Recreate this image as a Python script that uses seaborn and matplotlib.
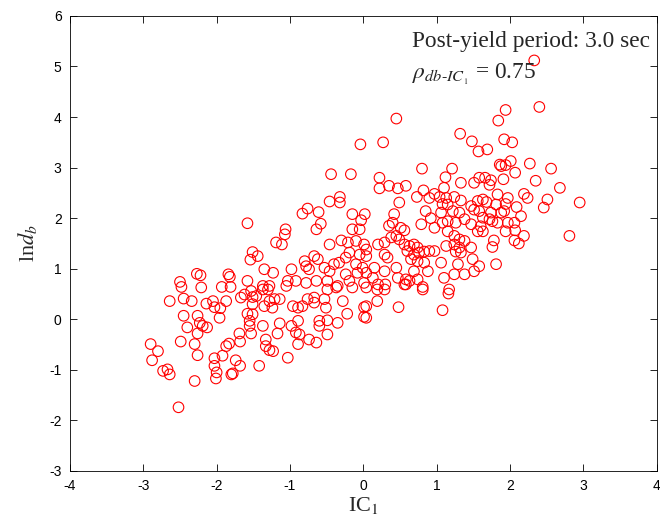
import matplotlib
matplotlib.use("Agg")
import matplotlib.pyplot as plt
import seaborn as sns
import numpy as np

pts = [
(0.45,3.97),(0.27,3.50),(1.32,3.67),(1.48,3.52),(1.57,3.32),(-0.04,3.46),(0.80,2.98),(1.21,2.98),
(2.33,5.12),(2.40,4.20),(1.94,4.14),(1.84,3.93),(1.92,3.56),(2.03,3.50),(1.69,3.36),(2.27,3.08),(1.86,3.06),(2.01,3.13),(1.94,3.05),(2.56,2.98),
(-0.44,2.87),(-0.17,2.87),(-0.46,2.33),(-0.32,2.42),(-0.32,2.31),(-0.76,2.19),(-0.83,2.09),(-0.61,2.12),(-0.58,1.89),(-0.64,1.78),(-1.06,1.78),(-1.07,1.68),(-1.19,1.52),(-1.11,1.48),(-1.58,1.90),
(-0.15,2.08),(0.02,2.08),(-0.03,1.96),(-0.15,1.78),(-0.05,1.78),(-0.46,1.48),(-0.30,1.56),(-0.21,1.52),(-0.10,1.55),(0.01,1.48),(-0.19,1.32),(-0.05,1.28),(-1.51,1.33),(-1.44,1.25),(-1.54,1.18),
(-0.67,1.25),(-0.62,1.19),(-0.80,1.15),(-0.78,1.05),(-0.74,0.99),(-0.53,1.02),(-0.46,0.95),(-0.40,1.09),(-0.33,1.12),(-0.24,1.22),(-0.10,1.09),(-0.01,1.02),(-0.08,0.92),(-0.24,0.89),(-1.35,0.99),(-1.23,0.92),(-0.98,0.99),(-1.03,0.76),(-0.92,0.76),(-0.78,0.72),(-0.64,0.76),(-0.49,0.76),(-0.35,0.66),(-0.19,0.76),(0.01,0.72),(-1.37,0.66),(-1.28,0.66),(-1.58,0.76),
(-2.27,0.90),(-2.22,0.87),(-1.84,0.89),(-1.82,0.84),(-2.50,0.74),(-2.48,0.64),(-2.21,0.63),(-1.93,0.64),(-1.81,0.64),
(-2.64,0.36),(-2.45,0.41),(-2.34,0.36),(-2.14,0.31),(-2.05,0.36),(-2.03,0.24),(-1.95,0.22),(-1.87,0.36),(-1.96,0.03),(-2.45,0.07),(-2.26,0.07),(-2.23,-0.07),(-2.19,-0.13),(-2.13,-0.16),(-2.40,-0.16),(-2.26,-0.28),(-2.49,-0.44),(-2.30,-0.49),(-2.26,-0.71),(-2.90,-0.49),(-2.80,-0.63),(-2.88,-0.81),(-2.73,-1.02),(-2.67,-0.99),(-2.64,-1.09),(-2.30,-1.22),(-2.52,-1.74),(-2.03,-0.77),(-2.03,-0.92),(-2.00,-1.05),(-2.01,-1.17),(-1.92,-0.72),(-1.80,-1.09),(-1.78,-1.07),(-1.74,-0.81),(-1.68,-0.92),(-1.83,-0.48),(-1.87,-0.53),(-1.68,-0.44),(-1.69,-0.28),(-1.53,-0.28),(-1.58,0.11),(-1.55,-0.03),(-1.55,-0.13),(-1.67,0.43),(-1.62,0.49),(-1.51,0.44),(-1.51,0.30),
(-1.53,0.56),(-1.46,0.46),(-1.37,0.59),(-1.30,0.59),(-1.28,0.36),(-1.21,0.40),(-1.14,0.40),(-1.35,0.26),(-1.24,0.23),(-1.05,0.66),(-0.96,0.26),(-0.89,0.23),(-0.83,0.26),(-0.76,0.40),(-0.67,0.43),(-0.67,0.33),(-0.53,0.40),(-0.51,0.23),(-0.49,0.59),(-0.37,0.63),(-0.28,0.36),(-0.15,0.63),(-0.22,0.11),(0.01,0.24),(0.01,0.05),(-1.51,0.10),(-1.37,-0.13),(-1.14,-0.08),(-1.17,-0.28),(-1.33,-0.40),(-1.33,-0.53),(-1.28,-0.61),(-1.23,-0.63),(-1.42,-0.92),(-1.03,-0.76),(-0.98,-0.13),(-0.89,-0.03),(-0.92,-0.26),(-0.87,-0.30),(-0.89,-0.49),(-0.74,-0.40),(-0.64,-0.46),(-0.60,-0.03),(-0.60,-0.13),(-0.49,-0.02),(-0.49,-0.30),(-0.35,-0.07),
(0.04,0.63),(0.19,0.59),(0.29,0.59),(0.58,0.69),(0.81,0.59),(1.16,0.51),(0.19,0.36),(0.04,0.26),(0.04,0.03),(0.48,0.24),(1.08,0.18),
(1.88,3.03),(2.07,2.90),(1.66,2.80),(1.74,2.75),(1.72,2.66),(1.91,2.77),(2.35,2.74),(2.68,2.60),(2.19,2.48),(2.24,2.40),(1.83,2.47),(1.97,2.40),(1.63,2.37),(1.68,2.32),(1.81,2.27),(1.94,2.28),(2.09,2.22),(2.51,2.37),(2.46,2.21),(2.95,2.31),(1.74,2.11),(1.88,2.11),(1.92,2.14),(2.15,2.04),(1.63,2.01),(1.72,1.98),(1.76,1.94),(1.83,1.91),(1.97,1.91),(2.06,1.91),(1.60,1.84),(1.63,1.74),(1.94,1.74),(2.07,1.76),(2.19,1.65),(2.06,1.56),(2.12,1.50),(1.78,1.56),(1.76,1.43),(2.81,1.65),(1.81,1.09),
(0.22,2.80),(1.12,2.81),(0.22,2.59),(0.35,2.64),(0.47,2.59),(0.58,2.64),(1.33,2.70),(1.51,2.70),(1.58,2.80),(0.82,2.55),(1.10,2.60),(0.97,2.48),(0.90,2.40),(1.04,2.42),(1.13,2.40),(1.24,2.42),(1.33,2.35),(0.73,2.42),(0.49,2.31),(1.08,2.28),(1.15,2.27),(1.47,2.24),(1.56,2.34),(1.51,2.17),(1.58,2.14),(0.85,2.14),(1.06,2.11),(1.22,2.14),(1.31,2.11),(0.42,2.08),(0.92,2.00),(0.79,1.88),(0.97,1.81),(1.08,1.91),(1.15,1.94),(1.26,1.91),(1.38,1.98),(1.47,1.88),(1.56,1.74),(0.40,1.91),(0.35,1.85),(0.51,1.81),(0.56,1.76),
(1.15,1.74),(1.24,1.65),(1.31,1.58),(1.38,1.55),(1.24,1.48),(1.31,1.42),(1.26,1.34),(1.33,1.32),(1.47,1.42),(1.13,1.45),(0.20,1.48),(0.29,1.52),(0.38,1.62),(0.45,1.65),(0.49,1.58),(0.56,1.48),(0.63,1.45),(0.69,1.48),(0.74,1.42),(0.60,1.35),(0.69,1.28),(0.76,1.32),(0.83,1.34),(0.90,1.35),(0.97,1.35),(0.29,1.28),(0.33,1.22),(0.04,1.38),(0.04,1.25),(0.65,1.19),(0.74,1.15),(0.83,1.12),(1.06,1.12),(1.29,1.09),(1.49,1.19),(1.58,1.05),(0.15,1.02),(0.29,0.95),(0.45,1.02),(0.69,0.95),(0.88,0.95),(1.24,0.89),(1.38,0.89),(1.51,0.95),(0.04,0.92),(0.13,0.82),(0.47,0.82),(0.58,0.79),(0.63,0.76),(0.74,0.79),(1.10,0.82),(0.20,0.69),(0.30,0.69),(0.56,0.69),(0.81,0.64),(1.17,0.59),
]
ic1 = [p[0] for p in pts]
lndb = [p[1] for p in pts]

x_ticks = [-4, -3, -2, -1, 0, 1, 2, 3, 4]
y_ticks = [-3, -2, -1, 0, 1, 2, 3, 4, 5, 6]

sns.set_style("white")
plt.rcParams["mathtext.fontset"] = "stix"

fig = plt.figure(figsize=(6.6, 5.31), dpi=100)
ax = fig.add_axes([0.106, 0.113, 0.889, 0.857])

sns.scatterplot(x=ic1, y=lndb, ax=ax, marker="o", s=58,
                facecolors="none", edgecolor="red", linewidth=0.8)

ax.set_xlim(-4, 4)
ax.set_ylim(-3, 6)
ax.set_xticks(x_ticks)
ax.set_yticks(y_ticks)
ax.set_xticklabels([str(t) for t in x_ticks], fontfamily="Liberation Sans", fontsize=10)
ax.set_yticklabels([str(t) for t in y_ticks], fontfamily="Liberation Sans", fontsize=10)
ax.tick_params(direction="in", length=5, width=0.6, top=True, right=True,
               bottom=True, left=True, colors="black", pad=6)
for sp in ax.spines.values():
    sp.set_visible(True)
    sp.set_color("black")
    sp.set_linewidth(0.6)

ax.set_xlabel(r"IC$_1$", fontfamily="Liberation Serif", fontsize=16, labelpad=1)
ax.set_ylabel(r"ln$\mathit{d}_b$", fontfamily="Liberation Serif", fontsize=16, labelpad=7)

ax.text(0.67, 5.49, "Post-yield period: 3.0 sec", fontfamily="Liberation Serif",
        fontsize=16.8, va="center", ha="left")
ax.text(0.67, 4.85, r"$\rho_{db\text{-}IC_{_1}}$ = 0.75", fontfamily="Liberation Serif",
        fontsize=16.8, va="center", ha="left")

fig.savefig("out.png", dpi=100)
